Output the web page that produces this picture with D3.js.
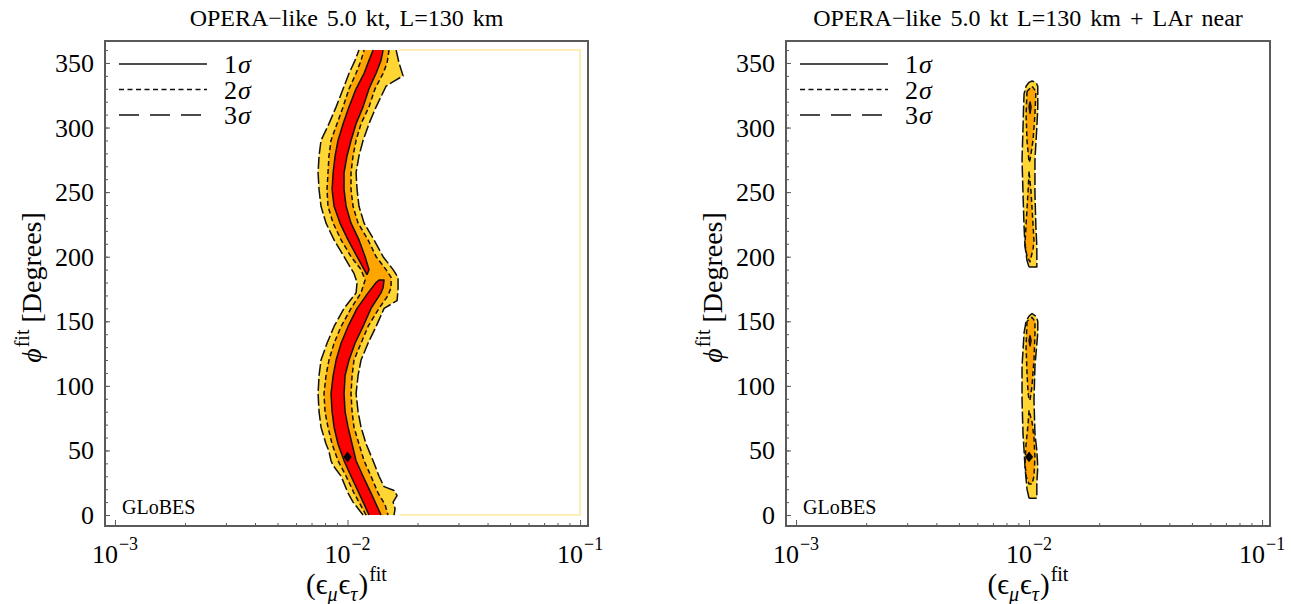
<!DOCTYPE html>
<html lang="en">
<head>
  <meta charset="UTF-8">
  <title>GLoBES contours</title>
  <script src="https://d3js.org/d3.v7.min.js"></script>
  <style>
    body { margin: 0; background: #fff; }
    text { font-family: "Liberation Serif", "Times New Roman", serif; fill: #000; }
    .frame { fill: none; stroke: #5a5a5a; stroke-width: 1.7px; shape-rendering: crispEdges; }
    .tick line { stroke: #5a5a5a; stroke-width: 1px; }
    .domain { display: none; }
  </style>
</head>
<body>
  <div id="chart"></div>
  <script>
    // ---- data: [epsilon_mu*epsilon_tau, phi in degrees] ----
    const titles = ["OPERA\u2212like 5.0 kt, L=130 km", "OPERA\u2212like 5.0 kt L=130 km + LAr near"];
    const xMajorTicks = [1e-3, 1e-2, 1e-1];
    const xTickExponents = ["\u22123", "\u22122", "\u22121"];
    const xMinorTicks = [2,3,4,5,6,7,8,9,20,30,40,50,60,70,80,90].map(d => d * 1e-3);
    const yMajorTicks = [0, 50, 100, 150, 200, 250, 300, 350];
    const yMinorTicks = d3.range(0, 361, 10);
    const sigmaLevels = ["1", "2", "3"];
    const bestFit = [[0.01, 45], [0.01, 45]];

    // left panel, 3 sigma region (left edge up, right edge down)
    const leftYellow = [
      [.01166,0],[.01056,10],[.01005,17],[.00938,30],[.00870,38],[.00849,42],[.00830,50],[.00808,55],
      [.00769,68],[.00754,80],[.00747,94],[.00754,108],[.00769,120],[.00816,133],[.00875,146],
      [.00966,160],[.01088,172],[.01099,180],[.01066,187],[.00966,200],[.00875,213],[.00808,226],
      [.00769,239],[.00754,252],[.00747,265],[.00754,278],[.00769,290],[.00832,303],[.00893,316],
      [.00957,330],[.01015,342],[.01077,352],[.01120,360],
      [.01618,360],[.01665,350],[.01699,345],[.01733,340],[.01585,336],[.01464,332],[.01327,316],
      [.01237,303],[.01166,290],[.01120,278],[.01088,265],[.01099,252],[.01120,239],[.01178,226],
      [.01300,213],[.01422,200],[.01570,190],[.01649,184],[.01649,175],[.01633,166],[.01436,160],
      [.01327,146],[.01225,133],[.01143,120],[.01110,108],[.01088,94],[.01110,80],[.01143,68],
      [.01202,55],[.01288,42],[.01366,30],[.01436,22],[.01585,19],[.01633,15],[.01570,10],
      [.01601,5],[.01585,0]
    ];
    // left panel, 2 sigma region
    const leftOrange = [
      [.01202,0],[.01066,17],[.00986,30],[.00910,42],[.00858,55],[.00824,68],[.00800,80],[.00792,94],
      [.00808,108],[.00832,120],[.00875,133],[.00938,146],[.01035,160],[.01143,172],[.01190,182],
      [.01143,190],[.01035,200],[.00938,213],[.00867,226],[.00824,239],[.00816,252],[.00824,265],
      [.00832,278],[.00849,290],[.00901,303],[.00957,316],[.01015,330],[.01088,342],[.01143,352],
      [.01178,360],
      [.01508,360],[.01479,350],[.01422,342],[.01313,330],[.01237,316],[.01143,303],[.01088,290],
      [.01056,278],[.01035,265],[.01035,252],[.01056,239],[.01110,226],[.01225,213],[.01327,200],
      [.01464,190],[.01539,184],[.01539,176],[.01493,170],[.01366,160],[.01225,146],[.01143,133],
      [.01066,120],[.01046,108],[.01035,94],[.01046,80],[.01066,68],[.01120,55],[.01178,42],
      [.01262,30],[.01353,17],[.01450,8],[.01493,0]
    ];
    // left panel, 1 sigma regions
    const leftRedLow = [
      [.01237,0],[.01120,17],[.01035,30],[.00966,42],[.00910,55],[.00875,68],[.00858,80],[.00849,94],
      [.00867,108],[.00893,120],[.00938,133],[.01005,146],[.01099,160],[.01225,172],[.01327,180],
      [.01366,182],[.01436,182],[.01422,176],[.01393,172],[.01262,160],[.01166,146],[.01077,133],
      [.01015,120],[.00976,108],[.00966,94],[.00976,80],[.01005,68],[.01046,55],[.01088,42],
      [.01166,30],[.01262,17],[.01393,0]
    ];
    const leftRedHigh = [
      [.01213,186],[.01099,200],[.01005,213],[.00928,226],[.00875,239],[.00858,252],[.00867,265],
      [.00884,278],[.00910,290],[.00957,303],[.01015,316],[.01088,330],[.01178,342],[.01237,352],
      [.01288,360],[.01422,360],[.01393,352],[.01327,342],[.01237,330],[.01166,316],[.01088,303],
      [.01035,290],[.00995,278],[.00966,265],[.00966,252],[.00986,239],[.01035,226],[.01120,213],
      [.01190,200],[.01237,190]
    ];
    // thin edge of the 3 sigma fill along the grid border
    const leftGridEdge = [[.0165,360],[.1,360],[.1,0],[.0168,0]];

    // right panel
    const rightYellowLow = [
      [.0100,13],[.0098,20],[.00961,37],[.00952,50],[.00942,63],[.00933,89],[.00933,115],[.00952,141],
      [.00971,150],[.0100,154],[.0103,156],[.0107,154],[.0109,150],[.0109,141],[.0106,115],
      [.0105,89],[.0106,63],[.0108,50],[.0109,37],[.0108,25],[.0108,13]
    ];
    const rightYellowHigh = [
      [.0100,192],[.0098,197],[.00961,208],[.00952,223],[.00942,249],[.00933,275],[.00942,300],
      [.00947,315],[.00952,326],[.00971,332],[.0100,335],[.0103,336],[.0107,335],[.0109,332],
      [.0109,326],[.0109,315],[.0108,300],[.0106,275],[.0106,249],[.0107,223],[.0108,208],
      [.0108,197],[.0108,192]
    ];
    const rightOrange = [
      [[.0098,150],[.00971,130],[.0098,110],[.0099,95],[.0100,89],[.0101,89],[.0103,100],[.0105,120],[.0106,140],[.0106,150],[.0103,153]],
      [[.0100,81],[.0099,70],[.00971,55],[.00961,40],[.00971,30],[.0100,24],[.0103,24],[.0105,30],[.0106,45],[.0105,60],[.0103,72]],
      [[.0098,328],[.00971,310],[.0098,290],[.0100,273],[.0101,275],[.0104,290],[.0106,310],[.0107,328],[.0103,332]],
      [[.0100,266],[.0099,250],[.00971,225],[.00961,210],[.0098,200],[.0101,196],[.0104,206],[.0105,212],[.0104,225],[.0102,250]]
    ];
    const rightRed = [
      [[.0101,320],[.0100,316],[.0101,311],[.0102,316]],
      [[.0101,139],[.0100,135],[.0101,131],[.0102,135]]
    ];

    // ---- layout ----
    const W = 1291, H = 604;
    const colors = { s3: "#ffd633", s2: "#ffa500", s1: "#ff0000", grid: "#ffe9a0" };
    const dashes = { s1: null, s2: "5,3", s3: "12,3" };
    const legendDash = [null, "5,3.5", "20,11"];

    const panels = [
      { left: 105, right: 588, title: titles[0], yellow: [leftYellow], orange: [leftOrange],
        red: [leftRedLow, leftRedHigh], edge: leftGridEdge, fit: bestFit[0] },
      { left: 786, right: 1270, title: titles[1], yellow: [rightYellowLow, rightYellowHigh],
        orange: rightOrange, red: rightRed, edge: null, fit: bestFit[1] }
    ];
    const plotTop = 41, plotBottom = 526;

    const svg = d3.select("#chart").append("svg")
      .attr("width", W).attr("height", H);

    function pieces(pts) {
      // split the closed outline where it runs along phi = 0 or phi = 360
      const closed = pts.concat([pts[0]]);
      const out = [];
      let cur = [closed[0]];
      for (let i = 1; i < closed.length; i++) {
        const a = closed[i - 1], b = closed[i];
        const edge = (a[1] <= 0 && b[1] <= 0) || (a[1] >= 360 && b[1] >= 360);
        if (edge) { if (cur.length > 1) out.push(cur); cur = [b]; }
        else cur.push(b);
      }
      if (cur.length > 1) out.push(cur);
      return out;
    }

    panels.forEach((p, i) => {
      const x = d3.scaleLog().domain([Math.pow(10, -3.043), Math.pow(10, -0.966)]).range([p.left, p.right]);
      const y = d3.scaleLinear().domain([-8.5, 367]).range([plotBottom, plotTop]);
      const line = d3.line().x(d => x(d[0])).y(d => y(d[1]));
      const g = svg.append("g");

      svg.append("clipPath").attr("id", "clip" + i)
        .append("rect").attr("x", p.left).attr("y", plotTop)
        .attr("width", p.right - p.left).attr("height", plotBottom - plotTop);
      const plot = g.append("g").attr("clip-path", `url(#clip${i})`);

      // fills
      [["yellow", "s3"], ["orange", "s2"], ["red", "s1"]].forEach(([k, s]) => {
        plot.selectAll(".f" + k).data(p[k]).join("path")
          .attr("d", d => line(d) + "Z").attr("fill", colors[s]).attr("stroke", "none");
      });
      if (p.edge) {
        plot.append("path").attr("d", line(p.edge)).attr("fill", "none")
          .attr("stroke", colors.grid).attr("stroke-width", 1.6);
      }
      // contour lines
      [["yellow", "s3"], ["orange", "s2"], ["red", "s1"]].forEach(([k, s]) => {
        const segs = p[k].flatMap(pieces);
        plot.selectAll(".l" + k).data(segs).join("path")
          .attr("d", line).attr("fill", "none").attr("stroke", "#111")
          .attr("stroke-width", 1.5).attr("stroke-linejoin", "round")
          .attr("stroke-dasharray", dashes[s]);
      });
      // best fit point
      plot.append("path")
        .attr("d", d3.symbol(d3.symbolDiamond2, 60)())
        .attr("transform", `translate(${x(p.fit[0])},${y(p.fit[1])}) scale(0.85,1.1)`)
        .attr("fill", "#000");

      // axes, ticks pointing inward
      const xMinor = d3.axisBottom(x).tickValues(xMinorTicks).tickSize(-3).tickFormat("");
      const xMajor = d3.axisBottom(x).tickValues(xMajorTicks).tickSize(-6).tickFormat("");
      g.append("g").attr("transform", `translate(0,${plotBottom})`).call(xMinor);
      g.append("g").attr("transform", `translate(0,${plotBottom})`).call(xMajor);
      const yMinor = d3.axisLeft(y).tickValues(yMinorTicks).tickSize(-3).tickFormat("");
      const yMajor = d3.axisLeft(y).tickValues(yMajorTicks).tickSize(-5).tickFormat("");
      g.append("g").attr("transform", `translate(${p.left},0)`).call(yMinor);
      g.append("g").attr("transform", `translate(${p.left},0)`).call(yMajor);

      g.append("rect").attr("class", "frame")
        .attr("x", p.left).attr("y", plotTop)
        .attr("width", p.right - p.left).attr("height", plotBottom - plotTop);

      // tick labels
      g.selectAll(".ylab").data(yMajorTicks).join("text")
        .attr("x", p.left - 11).attr("y", d => y(d) + 9)
        .attr("text-anchor", "end").style("font-size", "26px").text(d => d);
      const xl = g.selectAll(".xlab").data(xMajorTicks).join("text")
        .attr("x", d => x(d)).attr("y", 563).attr("text-anchor", "middle")
        .style("font-size", "26px");
      xl.append("tspan").text("10");
      xl.append("tspan").attr("dx", 1).attr("dy", -13).style("font-size", "18px")
        .text((d, j) => xTickExponents[j]);

      // axis titles
      const cx = (p.left + p.right) / 2;
      const xt = g.append("text").attr("x", cx).attr("y", 594)
        .attr("text-anchor", "middle").style("font-size", "29px");
      xt.append("tspan").text("(\u03f5");
      xt.append("tspan").attr("dy", 7).style("font-size", "20px").style("font-style", "italic").text("\u03bc");
      xt.append("tspan").attr("dx", 1).attr("dy", -7).text("\u03f5");
      xt.append("tspan").attr("dy", 7).style("font-size", "20px").style("font-style", "italic").text("\u03c4");
      xt.append("tspan").attr("dx", 1).attr("dy", -7).text(")");
      xt.append("tspan").attr("dx", 1).attr("dy", -13).style("font-size", "20px").text("fit");

      const yt = g.append("text")
        .attr("transform", `translate(${p.left - 64},${(plotTop + plotBottom) / 2 + 4}) rotate(-90)`)
        .attr("text-anchor", "middle").style("font-size", "28px");
      yt.append("tspan").style("font-style", "italic").text("\u03d5");
      yt.append("tspan").attr("dx", 1).attr("dy", -12).style("font-size", "20px").text("fit");
      yt.append("tspan").attr("dy", 12).text(" [Degrees]");

      // title
      g.append("text").attr("x", cx).attr("y", 26).attr("text-anchor", "middle")
        .style("font-size", "24px").style("word-spacing", "3px").text(p.title);

      // legend
      sigmaLevels.forEach((s, j) => {
        const ly = 64 + j * 25.5;
        g.append("line").attr("x1", p.left + 14).attr("x2", p.left + 102)
          .attr("y1", ly).attr("y2", ly).attr("stroke", "#111").attr("stroke-width", 1.5)
          .attr("stroke-dasharray", legendDash[j]);
        const t = g.append("text").attr("x", p.left + 119).attr("y", ly + 9)
          .style("font-size", "26px");
        t.append("tspan").text(s);
        t.append("tspan").attr("dx", 1).style("font-style", "italic").text("\u03c3");
      });

      g.append("text").attr("x", p.left + 17).attr("y", 514)
        .style("font-size", "20px").text("GLoBES");
    });
  </script>
</body>
</html>
